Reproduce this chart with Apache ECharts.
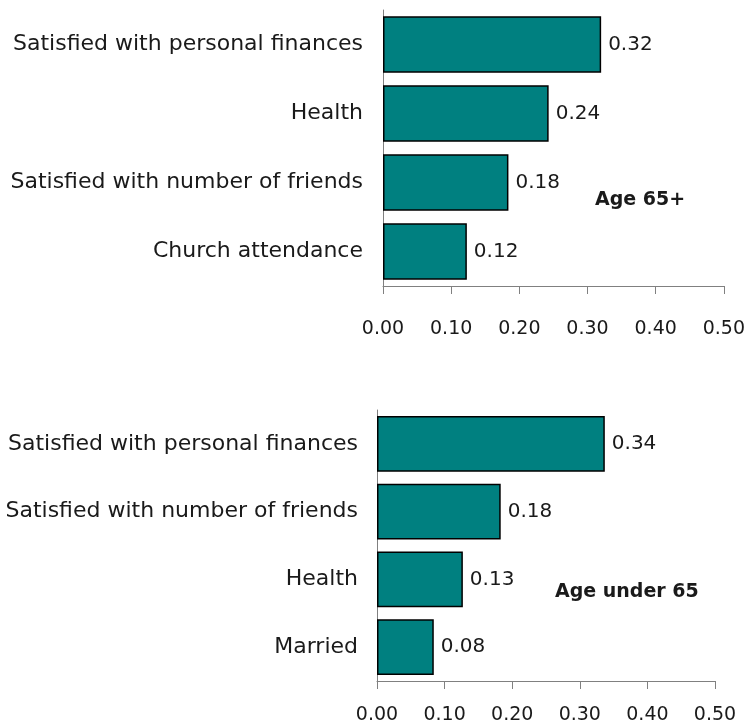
<!DOCTYPE html>
<html>
<head>
<meta charset="utf-8">
<script src="https://cdn.jsdelivr.net/npm/echarts@6/dist/echarts.min.js"></script>
<style>
  html, body { margin: 0; padding: 0; background: #ffffff; }
  #chart { width: 748px; height: 725px; }
</style>
</head>
<body>
<div id="chart"></div>
<script>
// two panels of bars, older and younger respondents
var chart = echarts.init(document.getElementById('chart'));

// top panel (Age 65+)
var catsOld = ['Satisfied with personal finances', 'Health', 'Satisfied with number of friends', 'Church attendance'];
var valsOld = [0.32, 0.243, 0.184, 0.123];

// bottom panel (Age under 65)
var catsYoung = ['Satisfied with personal finances', 'Satisfied with number of friends', 'Health', 'Married'];
var valsYoung = [0.337, 0.183, 0.127, 0.084];

var tickMax = 0.5;
var tickStep = 0.1;

var barColor = '#008080';
var font = 'DejaVu Sans';

function valueAxis(gridIndex, margin) {
  return {
    type: 'value',
    gridIndex: gridIndex,
    min: 0,
    max: tickMax,
    interval: tickStep,
    splitLine: { show: false },
    axisLine: { show: true, lineStyle: { color: '#808080', width: 1 } },
    axisTick: { show: true, length: 8, lineStyle: { color: '#808080' } },
    axisLabel: {
      color: '#1a1a1a',
      fontFamily: font,
      fontSize: 19,
      margin: margin,
      formatter: function (v) { return v.toFixed(2); }
    }
  };
}

function catAxis(gridIndex, cats, margin) {
  return {
    type: 'category',
    gridIndex: gridIndex,
    data: cats,
    inverse: true,
    axisLine: { show: true, lineStyle: { color: '#808080', width: 1 } },
    axisTick: { show: false },
    axisLabel: {
      color: '#1a1a1a',
      fontFamily: font,
      fontSize: 22,
      margin: margin
    }
  };
}

function barSeries(idx, vals) {
  return {
    type: 'bar',
    xAxisIndex: idx,
    yAxisIndex: idx,
    data: vals,
    barWidth: '82%',
    itemStyle: { color: barColor, borderColor: '#000000', borderWidth: 1.5 },
    label: {
      show: true,
      position: 'right',
      distance: 7,
      color: '#1a1a1a',
      fontFamily: font,
      fontSize: 20,
      formatter: function (p) { return p.value.toFixed(2); }
    },
    silent: true
  };
}

var option = {
  backgroundColor: '#ffffff',
  animation: false,
  grid: [
    { left: 383, top: 10, width: 341, height: 276 },
    { left: 377, top: 410, width: 338, height: 273 }
  ],
  xAxis: [valueAxis(0, 34), valueAxis(1, 25)],
  yAxis: [catAxis(0, catsOld, 20), catAxis(1, catsYoung, 19)],
  series: [barSeries(0, valsOld), barSeries(1, valsYoung)],
  graphic: [
    {
      type: 'text', left: 595, top: 191,
      style: { text: 'Age 65+', fill: '#1a1a1a', font: 'bold 19px "DejaVu Sans"' }
    },
    {
      type: 'text', left: 555, top: 583,
      style: { text: 'Age under 65', fill: '#1a1a1a', font: 'bold 19px "DejaVu Sans"' }
    }
  ]
};

chart.setOption(option);
</script>
</body>
</html>
